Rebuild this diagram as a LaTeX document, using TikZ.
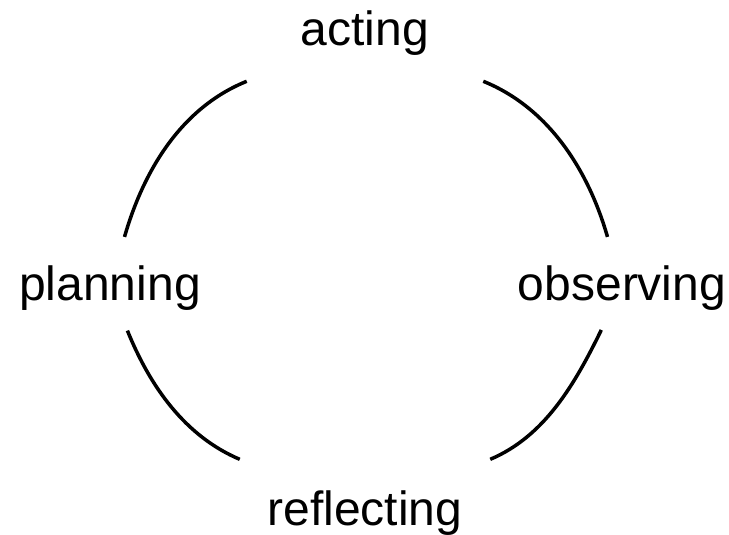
\documentclass[tikz,border=0pt]{standalone}
\usepackage{fontspec}
\setmainfont{Liberation Sans}

\begin{document}
\begin{tikzpicture}[x=1pt,y=-1pt,
    stage/.style={font=\fontsize{48}{56}\selectfont,inner sep=0pt,
                  text height=35pt,text depth=10pt,anchor=base},
    cyclearc/.style={line width=3.5pt}]
  \useasboundingbox (0,0) rectangle (729,535);
  \node[stage] (acting) at (365,46) {acting};
  \node[stage] (observing) at (622,300) {observing};
  \node[stage] (reflecting) at (365,525) {reflecting};
  \node[stage] (planning) at (110,300) {planning};
  \draw[cyclearc,shorten <=29pt,shorten >=67pt]
    (planning) to[out=74,in=202,out distance=99pt,in distance=137pt] (acting);
  \draw[cyclearc,shorten <=67pt,shorten >=29pt]
    (acting) to[out=338,in=106,out distance=137pt,in distance=99pt] (observing);
  \draw[cyclearc,shorten <=22pt,shorten >=78pt]
    (observing) to[out=244,in=23,out distance=83pt,in distance=137pt] (reflecting);
  \draw[cyclearc,shorten <=78pt,shorten >=22pt]
    (reflecting) to[out=157,in=292,out distance=137pt,in distance=83pt] (planning);
\end{tikzpicture}
\end{document}
